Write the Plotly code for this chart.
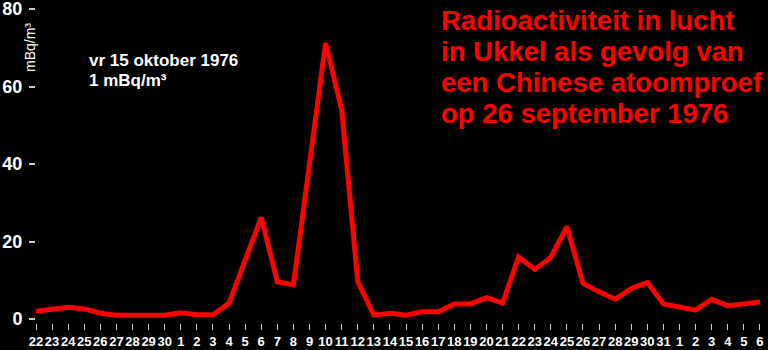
import plotly.graph_objects as go

tick_labels = ([str(d) for d in range(22, 31)] +
               [str(d) for d in range(1, 32)] +
               [str(d) for d in range(1, 7)])
values = [2.0, 2.5, 3.0, 2.6, 1.5, 1.0, 1.0, 1.0, 1.0,
          1.6, 1.1, 1.1, 4.1, 15.2, 26.2, 9.6, 8.8, 40.0, 71.3, 54.0,
          9.6, 1.0, 1.5, 1.0, 1.9, 1.9, 3.9, 3.9, 5.5, 4.1,
          16.0, 12.8, 15.9, 23.8, 9.2, 7.0, 5.1, 7.9, 9.4, 3.9,
          3.0, 2.3, 5.1, 3.4, 3.9, 4.4]
y_ticks = [0, 20, 40, 60, 80]
title_lines = ["Radioactiviteit in lucht", "in Ukkel als gevolg van",
               "een Chinese atoomproef", "op 26 september 1976"]
note_lines = ["vr 15 oktober 1976", "1 mBq/m³"]

FONT = "Liberation Sans, Arial, sans-serif"
idx = list(range(len(values)))

def py(pix):
    return 1 - (pix - 9) / 314

fig = go.Figure()
fig.add_trace(go.Scatter(
    x=idx, y=values, mode="lines",
    line=dict(color="#ff0000", width=5),
    cliponaxis=False, hoverinfo="skip"))

anns = []
for i, t in enumerate(title_lines):
    anns.append(dict(text=t, xref="paper", yref="paper",
                     x=(439 - 36) / 732, y=py(20 + 31.3 * i), xanchor="left", yanchor="middle",
                     showarrow=False,
                     font=dict(family=FONT, size=27.5, color="#ff0000", weight="bold")))
for i, t in enumerate(note_lines):
    anns.append(dict(text=t, xref="paper", yref="paper",
                     x=(87 - 36) / 732, y=py(61 + 20 * i), xanchor="left", yanchor="middle",
                     showarrow=False,
                     font=dict(family=FONT, size=17, color="white", weight="bold")))
anns.append(dict(text="mBq/m³", xref="paper", yref="paper", textangle=-90,
                 x=(30 - 36) / 732, y=py(48), xanchor="center", yanchor="middle",
                 showarrow=False,
                 font=dict(family=FONT, size=14, color="white")))

fig.update_layout(
    width=768, height=350,
    paper_bgcolor="black", plot_bgcolor="black",
    margin=dict(l=36, r=0, t=9, b=27),
    showlegend=False,
    xaxis=dict(
        range=[0, 45.5], tickmode="array", tickvals=idx, ticktext=tick_labels,
        tickangle=0, automargin=False, ticklabeloverflow="allow",
        showgrid=False, zeroline=False, showline=False,
        ticks="outside", ticklen=6, tickwidth=1, tickcolor="#cccccc",
        tickfont=dict(family=FONT, size=13, color="white", weight="bold"),
        anchor="free", position=0, ticklabelstandoff=0),
    yaxis=dict(
        range=[0, 80], domain=[4 / 314, 1], tickvals=y_ticks, automargin=False,
        ticklabeloverflow="allow",
        showgrid=False, zeroline=False, showline=False,
        ticks="outside", ticklen=6, tickwidth=2, tickcolor="#cccccc",
        tickfont=dict(family=FONT, size=18, color="white", weight="bold"),
        ticklabelstandoff=3),
    annotations=anns,
)

fig.write_html("out.html")
